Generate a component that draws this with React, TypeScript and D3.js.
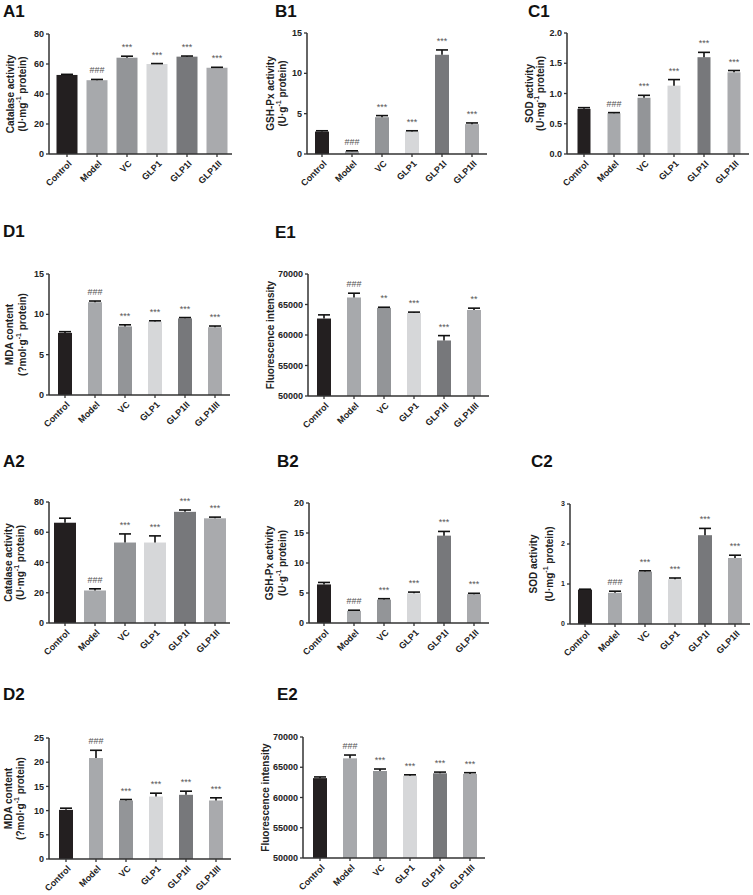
import React, { useRef, useEffect } from 'react';
import * as d3 from 'd3';

const groupsA = ['Control', 'Model', 'VC', 'GLP1', 'GLP1I', 'GLP1II'];
const groupsD = ['Control', 'Model', 'VC', 'GLP1', 'GLP1II', 'GLP1III'];
const barColors = ['#231f20', '#a7a9ac', '#939598', '#d6d7d9', '#77787b', '#a9aaad'];

// first experiment
const a1Mean = [52.7, 49.2, 64.2, 60.0, 64.9, 57.5];
const a1Err = [0.4, 0.5, 1.0, 0.3, 0.4, 0.3];
const a1Sig = ['', '###', '***', '***', '***', '***'];
const a1Ticks = [0, 20, 40, 60, 80];

const b1Mean = [2.78, 0.35, 4.56, 2.78, 12.3, 3.7];
const b1Err = [0.1, 0.05, 0.2, 0.1, 0.6, 0.15];
const b1Sig = ['', '###', '***', '***', '***', '***'];
const b1Ticks = [0, 5, 10, 15];

const c1Mean = [0.746, 0.674, 0.93, 1.13, 1.6, 1.35];
const c1Err = [0.02, 0.01, 0.04, 0.1, 0.08, 0.03];
const c1Sig = ['', '###', '***', '***', '***', '***'];
const c1Ticks = [0, 0.5, 1.0, 1.5, 2.0];

const d1Mean = [7.7, 11.5, 8.5, 9.1, 9.5, 8.4];
const d1Err = [0.15, 0.15, 0.2, 0.1, 0.1, 0.15];
const d1Sig = ['', '###', '***', '***', '***', '***'];
const d1Ticks = [0, 5, 10, 15];

const e1Mean = [62700, 66150, 64450, 63600, 59100, 64100];
const e1Err = [600, 700, 100, 150, 800, 300];
const e1Sig = ['', '###', '**', '***', '***', '**'];
const e1Ticks = [50000, 55000, 60000, 65000, 70000];

// second experiment
const a2Mean = [66.3, 21.5, 53.2, 53.2, 73.5, 69.2];
const a2Err = [3.0, 1.1, 5.7, 4.4, 1.2, 0.8];
const a2Sig = ['', '###', '***', '***', '***', '***'];
const a2Ticks = [0, 20, 40, 60, 80];

const b2Mean = [6.43, 2.03, 3.9, 4.95, 14.56, 4.8];
const b2Err = [0.33, 0.1, 0.15, 0.2, 0.7, 0.15];
const b2Sig = ['', '###', '***', '***', '***', '***'];
const b2Ticks = [0, 5, 10, 15, 20];

const c2Mean = [0.86, 0.78, 1.31, 1.12, 2.22, 1.65];
const c2Err = [0.01, 0.04, 0.02, 0.03, 0.17, 0.07];
const c2Sig = ['', '###', '***', '***', '***', '***'];
const c2Ticks = [0, 1, 2, 3];

const d2Mean = [10.15, 20.86, 12.09, 12.9, 13.26, 12.09];
const d2Err = [0.35, 1.6, 0.2, 0.7, 0.75, 0.55];
const d2Sig = ['', '###', '***', '***', '***', '***'];
const d2Ticks = [0, 5, 10, 15, 20, 25];

const e2Mean = [63200, 66470, 64380, 63600, 64000, 63900];
const e2Err = [200, 550, 330, 150, 200, 200];
const e2Sig = ['', '###', '***', '***', '***', '***'];
const e2Ticks = [50000, 55000, 60000, 65000, 70000];

type Panel = {
  name: string; groups: string[]; mean: number[]; err: number[]; sig: string[];
  ticks: number[]; fmt?: string;
  title: string; sub?: [string, string, string];
  ax: number; top: number; h: number; lead: number; bw: number;
  t1: number; t2?: number; lx: number; ly: number; tickSize?: number;
};

const panels: Panel[] = [
  { name: 'A1', groups: groupsA, mean: a1Mean, err: a1Err, sig: a1Sig, ticks: a1Ticks,
    title: 'Catalase activity', sub: ['(U·mg', '-1', ' protein)'],
    ax: 49, top: 34, h: 120, lead: 3, bw: 21, t1: 10, t2: 22, lx: 3, ly: 17 },
  { name: 'B1', groups: groupsA, mean: b1Mean, err: b1Err, sig: b1Sig, ticks: b1Ticks,
    title: 'GSH-Px activity', sub: ['(U·g', '-1', ' protein)'],
    ax: 307, top: 33, h: 121, lead: 0, bw: 14, t1: 270, t2: 282, lx: 275, ly: 17 },
  { name: 'C1', groups: groupsA, mean: c1Mean, err: c1Err, sig: c1Sig, ticks: c1Ticks, fmt: '.1f',
    title: 'SOD activity', sub: ['(U·mg', '-1', ' protein)'],
    ax: 567, top: 33, h: 121, lead: 2, bw: 13, t1: 529, t2: 540, lx: 528, ly: 17 },
  { name: 'D1', groups: groupsD, mean: d1Mean, err: d1Err, sig: d1Sig, ticks: d1Ticks,
    title: 'MDA content', sub: ['(?mol·g', '-1', ' protein)'],
    ax: 49, top: 274, h: 121, lead: 1, bw: 14, t1: 9, t2: 22, lx: 3, ly: 237 },
  { name: 'E1', groups: groupsD, mean: e1Mean, err: e1Err, sig: e1Sig, ticks: e1Ticks,
    title: 'Fluorescence intensity',
    ax: 308, top: 274, h: 122, lead: 1, bw: 14, t1: 270, lx: 275, ly: 238 },
  { name: 'A2', groups: groupsA, mean: a2Mean, err: a2Err, sig: a2Sig, ticks: a2Ticks,
    title: 'Catalase activity', sub: ['(U·mg', '-1', ' protein)'],
    ax: 49, top: 502, h: 121, lead: 1, bw: 22, t1: 8, t2: 20, lx: 3, ly: 467 },
  { name: 'B2', groups: groupsA, mean: b2Mean, err: b2Err, sig: b2Sig, ticks: b2Ticks,
    title: 'GSH-Px activity', sub: ['(U·g', '-1', ' protein)'],
    ax: 309, top: 503, h: 120, lead: 0, bw: 14, t1: 269, t2: 282, lx: 277, ly: 467 },
  { name: 'C2', groups: groupsA, mean: c2Mean, err: c2Err, sig: c2Sig, ticks: c2Ticks,
    title: 'SOD activity', sub: ['(U·mg', '-1', ' protein)'],
    ax: 570, top: 504, h: 120, lead: 0, bw: 14, t1: 533, t2: 549, lx: 531, ly: 467, tickSize: 7 },
  { name: 'D2', groups: groupsD, mean: d2Mean, err: d2Err, sig: d2Sig, ticks: d2Ticks,
    title: 'MDA content', sub: ['(?mol·g', '-1', ' protein)'],
    ax: 49, top: 738, h: 121, lead: 2, bw: 14, t1: 8, t2: 20, lx: 3, ly: 700 },
  { name: 'E2', groups: groupsD, mean: e2Mean, err: e2Err, sig: e2Sig, ticks: e2Ticks,
    title: 'Fluorescence intensity',
    ax: 303, top: 737, h: 121, lead: 2, bw: 14, t1: 265, lx: 277, ly: 700 },
];

const FONT = '"Liberation Sans", Arial, sans-serif';
const AXIS = '#333';

export default function App() {
  const ref = useRef<SVGSVGElement>(null);

  useEffect(() => {
    const svg = d3.select(ref.current);
    svg.selectAll('*').remove();
    svg.attr('font-family', FONT);

    panels.forEach(p => {
      const g = svg.append('g');
      const bottom = p.top + p.h;
      const y = d3.scaleLinear()
        .domain([p.ticks[0], p.ticks[p.ticks.length - 1]])
        .range([bottom, p.top]);
      const x = d3.scaleBand<string>()
        .domain(p.groups)
        .range([p.ax + p.lead, p.ax + p.lead + p.groups.length * 30]);
      const cx = (d: string) => (x(d) ?? 0) + x.bandwidth() / 2;
      const fmt = p.fmt ? d3.format(p.fmt) : (v: number) => String(v);

      // panel letter
      g.append('text')
        .attr('x', p.lx).attr('y', p.ly)
        .attr('font-size', 17).attr('font-weight', 'bold').attr('fill', '#111')
        .text(p.name);

      // bars
      g.selectAll('rect.bar').data(p.groups).join('rect')
        .attr('x', d => cx(d) - p.bw / 2)
        .attr('y', (d, i) => y(p.mean[i]))
        .attr('width', p.bw)
        .attr('height', (d, i) => bottom - y(p.mean[i]))
        .attr('fill', (d, i) => barColors[i]);

      // error bars (upper only)
      p.groups.forEach((d, i) => {
        const c = cx(d);
        const yt = y(p.mean[i] + p.err[i]);
        g.append('line')
          .attr('x1', c).attr('x2', c)
          .attr('y1', y(p.mean[i])).attr('y2', yt)
          .attr('stroke', '#111').attr('stroke-width', 1.6);
        g.append('line')
          .attr('x1', c - 6).attr('x2', c + 6)
          .attr('y1', yt).attr('y2', yt)
          .attr('stroke', '#111').attr('stroke-width', 1.6);
        if (p.sig[i]) {
          g.append('text')
            .attr('x', c).attr('y', yt - 6)
            .attr('text-anchor', 'middle')
            .attr('font-size', 9).attr('fill', '#555')
            .text(p.sig[i]);
        }
      });

      // y axis
      g.append('line')
        .attr('x1', p.ax).attr('x2', p.ax)
        .attr('y1', p.top).attr('y2', bottom)
        .attr('stroke', AXIS).attr('stroke-width', 1.5);
      p.ticks.forEach(t => {
        g.append('line')
          .attr('x1', p.ax - 3).attr('x2', p.ax)
          .attr('y1', y(t)).attr('y2', y(t))
          .attr('stroke', AXIS).attr('stroke-width', 1.3);
        g.append('text')
          .attr('x', p.ax - 5).attr('y', y(t))
          .attr('dy', '0.35em')
          .attr('text-anchor', 'end')
          .attr('font-size', p.tickSize ?? 9).attr('font-weight', 'bold').attr('fill', '#222')
          .text(fmt(t));
      });

      // x axis
      const xEnd = p.ax + p.lead + p.groups.length * 30;
      g.append('line')
        .attr('x1', p.ax).attr('x2', xEnd)
        .attr('y1', bottom).attr('y2', bottom)
        .attr('stroke', AXIS).attr('stroke-width', 1.5);
      p.groups.forEach(d => {
        const c = cx(d);
        g.append('line')
          .attr('x1', c).attr('x2', c)
          .attr('y1', bottom).attr('y2', bottom + 3)
          .attr('stroke', AXIS).attr('stroke-width', 1.3);
        g.append('text')
          .attr('transform', `translate(${c + 3},${bottom + 8}) rotate(-45)`)
          .attr('dy', '0.35em')
          .attr('text-anchor', 'end')
          .attr('font-size', 9).attr('font-weight', 'bold').attr('fill', '#222')
          .text(d);
      });

      // y title
      const mid = p.top + p.h / 2;
      g.append('text')
        .attr('transform', `translate(${p.t1},${mid}) rotate(-90)`)
        .attr('dominant-baseline', 'central')
        .attr('text-anchor', 'middle')
        .attr('font-size', 10).attr('font-weight', 'bold').attr('fill', '#222')
        .text(p.title);
      if (p.sub && p.t2 !== undefined) {
        const t = g.append('text')
          .attr('transform', `translate(${p.t2},${mid}) rotate(-90)`)
          .attr('dominant-baseline', 'central')
          .attr('text-anchor', 'middle')
          .attr('font-size', 10).attr('font-weight', 'bold').attr('fill', '#222');
        t.append('tspan').text(p.sub[0]);
        t.append('tspan').attr('dy', -4).attr('font-size', 7).text(p.sub[1]);
        t.append('tspan').attr('dy', 4).text(p.sub[2]);
      }
    });
  }, []);

  return (
    <svg ref={ref} width={753} height={895}
      style={{ position: 'absolute', left: 0, top: 0, background: '#fff' }} />
  );
}
